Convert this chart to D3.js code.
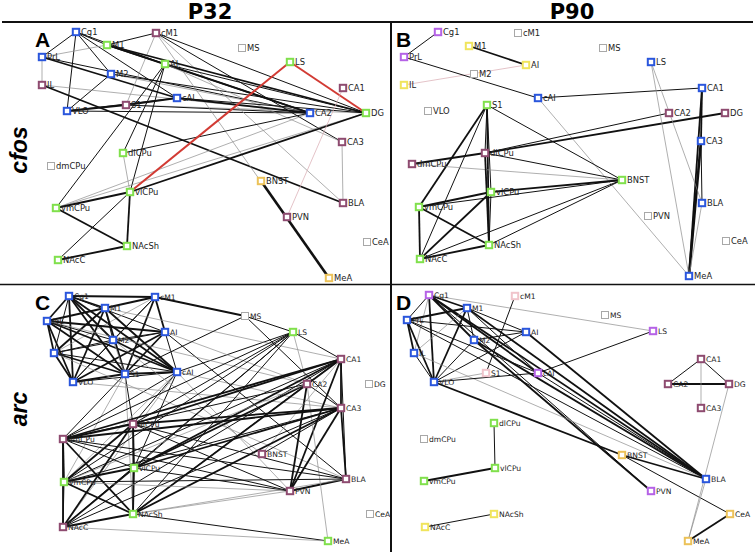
<!DOCTYPE html>
<html><head><meta charset="utf-8">
<script src="https://cdn.jsdelivr.net/npm/d3@7"></script>
<style>body{margin:0;background:#fff;} svg{display:block;}</style>
</head><body>
<svg id="chart" width="755" height="552"></svg>
<script>
// ---------- data ----------
const regions = ["Cg1","cM1","M1","PrL","AI","M2","IL","cAI","S1","VLO","MS","LS","CA1","CA2","DG","CA3","dlCPu","dmCPu","vlCPu","vmCPu","NAcSh","NAcC","BNST","BLA","PVN","CeA","MeA"];

const columnTitles = ["P32","P90"];
const rowTitles = ["cfos","arc"];
const panelLetters = ["A","B","C","D"];

// node layouts (layout units, per panel)
const layoutA = [[76,10],[156,11],[107,23],[42,35],[165,42],[111,52],[42,63],[177,76],[126,83],[67,89],[242,26],[290,40],[343,66],[310,91],[366,91],[342,120],[123,131],[51,144],[130,170],[56,186],[127,224],[58,238],[261,159],[343,181],[287,195],[367,220],[329,256]];
const layoutB = [[48,10],[128,11],[79,24],[14,35],[136,43],[84,52],[14,63],[148,76],[97,83],[38,89],[213,26],[261,40],[312,66],[279,91],[335,91],[311,119],[95,131],[22,142],[101,170],[29,185],[99,223],[30,237],[232,158],[312,181],[258,194],[336,219],[299,254]];
const layoutC = [[69,11],[155,12],[105,23],[47,36],[165,47],[113,55],[54,68],[177,87],[125,89],[73,97],[245,31],[293,47],[341,74],[307,99],[369,99],[341,123],[133,139],[63,154],[134,183],[64,197],[133,229],[63,242],[262,169],[346,194],[290,206],[370,229],[328,256]];
const layoutD = [[39,10],[125,11],[77,23],[17,35],[136,47],[84,55],[24,68],[148,88],[96,88],[44,97],[215,30],[263,46],[311,74],[278,99],[339,99],[311,123],[104,138],[34,154],[105,183],[34,196],[104,229],[35,242],[232,170],[316,194],[261,206],[340,229],[298,256]];

// module membership of every region, per panel
const moduleA = ["blue","mauve","green","blue","green","blue","mauve","blue","mauve","blue","none","green","mauve","blue","green","mauve","green","none","green","green","green","green","gold","mauve","mauve","none","gold"];
const moduleB = ["purple","none","yellow","purple","yellow","none","yellow","blue","green","none","none","blue","blue","mauve","mauve","blue","mauve","mauve","green","green","green","green","green","blue","none","none","blue"];
const moduleC = ["blue","blue","blue","blue","blue","blue","blue","blue","blue","blue","none","green","mauve","mauve","none","mauve","mauve","mauve","green","green","green","mauve","mauve","mauve","mauve","none","green"];
const moduleD = ["purple","pink","blue","blue","blue","blue","blue","purple","pink","blue","none","purple","mauve","mauve","mauve","mauve","green","none","green","green","yellow","yellow","gold","blue","purple","gold","gold"];

// edges: [source, target, strength 1-4, kind]
const edgesA = [
["Cg1","PrL",2],["Cg1","M1",2],["Cg1","M2",2],["Cg1","cAI",2],["Cg1","VLO",2],["Cg1","AI",2],["M1","AI",3],
["PrL","IL",1],["PrL","M1",1],["PrL","cAI",3],["PrL","CA2",2],
["M2","VLO",2],["M2","CA2",1],["M2","DG",2],
["IL","CA2",1],["IL","BLA",3],
["VLO","S1",3],["VLO","cAI",2],["S1","cAI",3],["VLO","CA2",2],["S1","DG",1],["S1","CA2",2],
["cM1","M1",2],["cM1","S1",1],["cM1","CA3",2],["cM1","DG",2],["cM1","BLA",1],["cM1","MeA",1],
["M1","CA2",3],["M1","DG",3],
["AI","CA2",3],["AI","DG",2],["AI","CA3",1],["AI","vmCPu",2],["AI","dlCPu",2],["AI","vlCPu",2],
["cAI","CA2",3],["cAI","DG",2],
["vmCPu","DG",1],["vmCPu","CA2",1],["vlCPu","DG",3],["dlCPu","CA2",2],
["dlCPu","vlCPu",1],["vmCPu","vlCPu",3],["vmCPu","NAcSh",3],["vlCPu","NAcSh",3],["vlCPu","NAcC",2],["NAcC","NAcSh",3],
["CA3","BLA",1],["BNST","MeA",4],
["LS","DG",3,"r"],["LS","vlCPu",3,"r"],["CA1","PVN",1,"p"]
];
const edgesB = [
["Cg1","PrL",2],["M1","AI",3],["IL","AI",1,"p"],["PrL","cAI",2],["cAI","CA1",2],["cAI","MeA",1],
["S1","vmCPu",3],["S1","NAcC",2],["S1","vlCPu",2],["S1","NAcSh",3],["S1","dlCPu",2],["S1","BNST",2],
["dmCPu","dlCPu",3],["dmCPu","BNST",1],["dlCPu","DG",3],["dlCPu","CA2",2],["dlCPu","NAcSh",3],["dlCPu","BNST",2],
["vlCPu","BNST",3],["vmCPu","vlCPu",3],["vmCPu","BNST",2],["vmCPu","NAcSh",3],["vmCPu","NAcC",3],["vlCPu","NAcC",3],["vlCPu","NAcSh",2],["NAcC","NAcSh",3],["NAcC","BNST",2],["NAcSh","BNST",2],
["CA1","CA3",3],["CA1","MeA",3],["CA3","MeA",4],["CA3","BLA",2],["BLA","MeA",1],["LS","MeA",1],["LS","BLA",1]
];
const edgesC = [
["Cg1","cM1",3],["Cg1","M1",3],["Cg1","PrL",3],["Cg1","IL",2],["Cg1","VLO",3],["Cg1","M2",3],["Cg1","S1",3],["Cg1","cAI",3],["Cg1","AI",2],
["cM1","M1",3],["cM1","AI",3],["cM1","M2",2],["cM1","S1",3],["cM1","VLO",2],["cM1","IL",1],["cM1","MS",3],
["M1","PrL",3],["M1","IL",3],["M1","VLO",3],["M1","S1",3],["M1","cAI",3],["M1","M2",2],
["PrL","AI",3],["PrL","M2",2],["PrL","IL",3],["PrL","VLO",3],["PrL","S1",3],["PrL","cAI",3],
["AI","M2",2],["AI","IL",2],["AI","S1",3],["AI","VLO",3],["AI","cAI",2],
["M2","IL",2],["M2","cAI",3],["M2","VLO",2],["M2","S1",1],
["IL","S1",3],["IL","cAI",2],["IL","VLO",3],
["S1","VLO",3],["S1","cAI",3],["cAI","VLO",2],
["S1","dmCPu",2],["S1","vmCPu",1],["S1","dlCPu",2],["S1","NAcSh",1],["cAI","dmCPu",2],["cAI","dlCPu",2],["cAI","vlCPu",2],["cAI","vmCPu",1],["cAI","NAcC",1],["cAI","PVN",1],["cAI","CA3",1],["cAI","LS",2],["AI","CA2",1],["AI","BLA",2],["M1","CA1",1],["PrL","CA2",1],["M2","BNST",1],["VLO","CA3",1],["IL","BLA",1],
["MS","CA3",2],["MS","LS",2],["MS","S1",2],["LS","CA1",2],["LS","CA2",1],["LS","dmCPu",2],["LS","vmCPu",2],["LS","NAcC",2],["LS","dlCPu",2],["LS","vlCPu",2],["LS","NAcSh",2],
["CA1","CA3",3],["CA1","CA2",2],["CA1","BLA",2],["CA1","PVN",3],["CA2","PVN",3],["CA2","CA3",2],["CA3","PVN",3],["CA3","BLA",3],["PVN","BLA",3],["BNST","CA3",2],["BNST","CA1",1],["MeA","CA2",1],
["CA1","dlCPu",3],["CA1","dmCPu",3],["CA1","vmCPu",2],["CA1","vlCPu",3],["CA1","NAcSh",3],["CA1","NAcC",2],
["CA2","vlCPu",3],["CA2","NAcSh",2],["CA2","dmCPu",2],["CA2","vmCPu",1],
["CA3","dlCPu",3],["CA3","dmCPu",3],["CA3","vlCPu",3],["CA3","vmCPu",2],["CA3","NAcC",2],["CA3","NAcSh",3],
["dlCPu","dmCPu",3],["dlCPu","vlCPu",3],["dlCPu","vmCPu",3],["dlCPu","NAcC",3],["dlCPu","NAcSh",2],["dmCPu","vmCPu",3],["dmCPu","NAcC",3],["dmCPu","vlCPu",2],["dmCPu","NAcSh",3],["vlCPu","vmCPu",3],["vlCPu","NAcSh",3],["vlCPu","NAcC",3],["vmCPu","NAcSh",3],["vmCPu","NAcC",2],["NAcC","NAcSh",3],
["vmCPu","BLA",2],["vmCPu","PVN",1],["dmCPu","BLA",2],["dlCPu","BLA",2],["NAcSh","PVN",1],["NAcSh","MeA",2],["NAcC","MeA",1],["vlCPu","PVN",2],["dlCPu","PVN",2],["NAcSh","BLA",1],["dmCPu","PVN",2]
];
const edgesD = [
["Cg1","M1",3],["Cg1","PrL",2],["Cg1","VLO",3],["Cg1","M2",3],["Cg1","cAI",3],["Cg1","BLA",3],["Cg1","LS",1],["Cg1","PVN",2],["Cg1","IL",1],
["PrL","M1",3],["PrL","IL",3],["PrL","VLO",3],["PrL","AI",2],["PrL","cAI",2],["PrL","BLA",2],
["M1","VLO",3],["M1","M2",2],["M1","BLA",3],["M1","cAI",2],["M1","IL",1],["M1","AI",2],
["AI","VLO",2],["AI","M2",2],["AI","BLA",3],
["M2","VLO",2],["M2","BLA",3],["M2","PVN",3],
["IL","VLO",2],["IL","BLA",1],
["VLO","S1",1],["VLO","cAI",2],["VLO","BNST",3],
["cM1","S1",2],["cAI","LS",2],["cAI","BLA",2],
["BNST","BLA",3],["BNST","CeA",2],
["CA1","CA2",2],["CA1","DG",2],["CA2","DG",3],["CA1","CA3",1],
["DG","MeA",1],["BLA","MeA",1],["MeA","CeA",3],
["dlCPu","vlCPu",2],["vlCPu","vmCPu",3],["NAcC","NAcSh",2]
];

// ---------- drawing ----------
const svg = d3.select("#chart");
const W = 755, H = 552;

const moduleColor = d3.scaleOrdinal()
  .domain(["blue","green","mauve","none","gold","yellow","purple","pink"])
  .range(["#2a56dc","#80e04c","#8e4b70","#a8a8a8","#ecc259","#f0e45c","#b562e6","#f0c4cb"]);
const edgeWidth = d3.scaleOrdinal().domain([1,2,3,4]).range([0.7,1.0,1.8,2.6]);
const edgeColor = (e) => e[3] === "r" ? "#d23b34" : e[3] === "p" ? "#d9a9b0" : (e[2] === 1 ? "#8d8d8d" : "#111");

const panels = [
  {letter:panelLetters[0], layout:layoutA, modules:moduleA, edges:edgesA, x0:0,   y0:22,  fs:8.4},
  {letter:panelLetters[1], layout:layoutB, modules:moduleB, edges:edgesB, x0:390, y0:22,  fs:8.4},
  {letter:panelLetters[2], layout:layoutC, modules:moduleC, edges:edgesC, x0:0,   y0:285, fs:7.6},
  {letter:panelLetters[3], layout:layoutD, modules:moduleD, edges:edgesD, x0:390, y0:285, fs:7.6}
];

panels.forEach(p => {
  const x = d3.scaleLinear().domain([0, 365]).range([p.x0, p.x0 + 365]);
  const y = d3.scaleLinear().domain([0, 262]).range([p.y0, p.y0 + 262]);
  const nodes = regions.map((name, i) => ({name, lx:p.layout[i][0], ly:p.layout[i][1], mod:p.modules[i]}));
  const byName = new Map(nodes.map(n => [n.name, n]));
  const g = svg.append("g");

  g.append("g").selectAll("line").data(p.edges).join("line")
    .attr("x1", e => x(byName.get(e[0]).lx)).attr("y1", e => y(byName.get(e[0]).ly))
    .attr("x2", e => x(byName.get(e[1]).lx)).attr("y2", e => y(byName.get(e[1]).ly))
    .attr("stroke", edgeColor)
    .attr("stroke-width", e => e[3] === "r" ? 2 : edgeWidth(e[2]));

  const ng = g.append("g").selectAll("g").data(nodes).join("g")
    .attr("transform", n => `translate(${x(n.lx)},${y(n.ly)})`);
  ng.append("rect")
    .attr("x", n => n.mod === "none" ? -3.5 : -3.2).attr("y", n => n.mod === "none" ? -3.5 : -3.2)
    .attr("width", n => n.mod === "none" ? 7 : 6.4).attr("height", n => n.mod === "none" ? 7 : 6.4)
    .attr("fill", "#fff")
    .attr("stroke", n => moduleColor(n.mod))
    .attr("stroke-width", n => n.mod === "none" ? 1 : 2);
  ng.append("text")
    .attr("x", 5).attr("y", p.fs * 0.37)
    .attr("font-family", "DejaVu Sans, Verdana, sans-serif")
    .attr("font-size", p.fs)
    .attr("fill", "#222")
    .text(n => n.name);

  // panel letter
  svg.append("text")
    .attr("x", p.x0 + (p.x0 === 0 ? 35 : 6)).attr("y", p.y0 + 25)
    .attr("font-family", "Liberation Sans, Arial, sans-serif")
    .attr("font-weight", "bold").attr("font-size", 21)
    .text(p.letter);
});

// frame lines
svg.append("line").attr("x1", 2).attr("x2", 753).attr("y1", 22).attr("y2", 22)
  .attr("stroke", "#111").attr("stroke-width", 2);
svg.append("line").attr("x1", 0).attr("x2", W).attr("y1", 284.5).attr("y2", 284.5)
  .attr("stroke", "#111").attr("stroke-width", 1.6);
svg.append("line").attr("x1", 391).attr("x2", 391).attr("y1", 22).attr("y2", H)
  .attr("stroke", "#111").attr("stroke-width", 2);

// column titles
[210, 572].forEach((cx, i) => {
  svg.append("text").attr("x", cx).attr("y", 18.5).attr("text-anchor", "middle")
    .attr("font-family", "DejaVu Sans, Verdana, sans-serif").attr("font-weight", "bold")
    .attr("font-size", 21).text(columnTitles[i]);
});
// row titles
[150, 409].forEach((cy, i) => {
  svg.append("text").attr("transform", `translate(27,${cy}) rotate(-90)`)
    .attr("text-anchor", "middle")
    .attr("font-family", "Liberation Sans, Arial, sans-serif").attr("font-weight", "bold")
    .attr("font-style", "italic").attr("font-size", 23).text(rowTitles[i]);
});
</script>
</body></html>
